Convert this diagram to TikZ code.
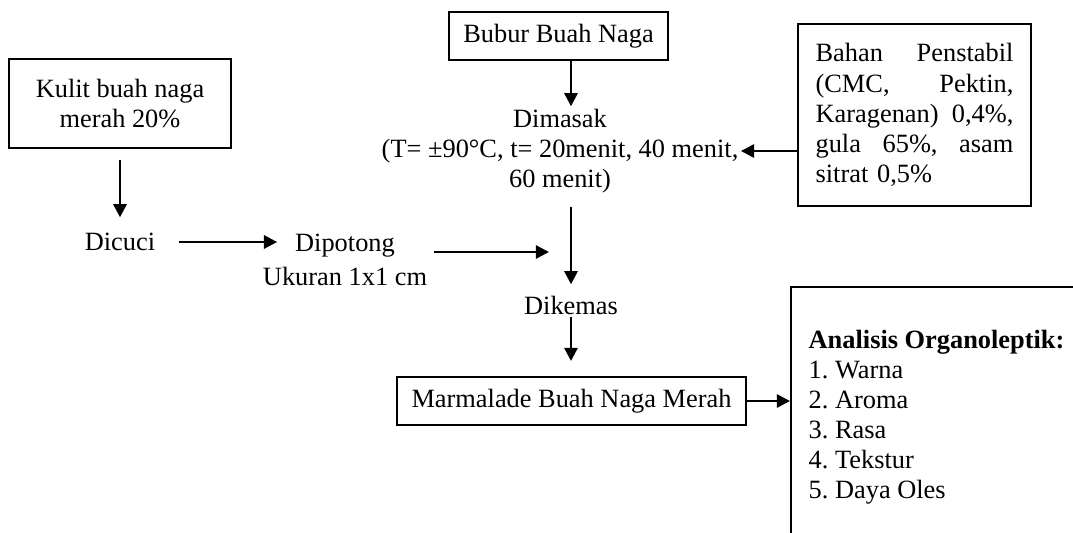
\documentclass[tikz,border=0pt]{standalone}
\usepackage{fontspec}
\setmainfont{Liberation Serif}
\usetikzlibrary{arrows.meta}

\tikzset{
	kotak/.style={draw, line width=1pt, align=center, inner sep=0pt},
	teks/.style={align=center, inner sep=1pt},
	panah/.style={line width=1.1pt, -{Triangle[length=6pt,width=6pt]}}
}

\begin{document}
\begin{tikzpicture}[x=0.455pt, y=-0.455pt, font=\fontsize{12}{13.7}\selectfont\frenchspacing]
	\clip (0,0) rectangle (1073,532);

	\node [kotak, minimum width=101pt, minimum height=40.5pt] (kulit) at (120,103.5) {Kulit buah naga\\merah 20\%};
	\node [kotak, minimum width=99.6pt, minimum height=21.8pt] (bubur) at (558.5,36) {Bubur Buah Naga};
	\node [kotak, minimum width=106pt, minimum height=82.8pt, text width=90pt, align=left] (bahan) at (914.5,115)
		{Bahan\hfill Penstabil\\(CMC,\hfill Pektin,\\Karagenan)\hfill 0,4\%,\\gula\hfill 65\%,\hfill asam\\sitrat 0,5\%};

	\node [teks] (dicuci) at (120,242) {Dicuci};
	\node [teks] (dipotong) at (345,246) {Dipotong};
	\node [teks] (ukuran) at (345,276) {Ukuran 1x1 cm};
	\node [teks] (dimasak) at (560,151) {Dimasak\\(T= ±90°C, t= 20menit, 40 menit,\\60 menit)};
	\node [teks] (dikemas) at (571,305) {Dikemas};

	\node [kotak, minimum width=158.8pt, minimum height=21.8pt] (marmalade) at (571.5,401) {Marmalade Buah Naga Merah};
	\node [kotak, anchor=north west, align=left, inner xsep=8pt, minimum height=118.3pt] (analisis) at (790,286)
		{\textbf{Analisis Organoleptik:}\\1. Warna\\2. Aroma\\3. Rasa\\4. Tekstur\\5. Daya Oles};

	\coordinate (gabung) at (549,252);

	\draw [panah, shorten <=5pt, shorten >=6pt] (kulit) -- (dicuci);
	\draw [panah, shorten <=9.5pt, shorten >=7pt] (dicuci.east) -- (dicuci.east -| dipotong.west);
	\draw [panah, shorten <=2pt] (gabung -| ukuran.east) -- (gabung);

	\draw [panah] (bubur.south -| dikemas.north) -- (dimasak.north -| dikemas.north);
	\draw [panah] (bahan.west |- dimasak.east) -- (dimasak.east);
	\draw [panah, shorten <=5pt, shorten >=4pt] (dimasak.south -| dikemas.north) -- (dikemas.north);
	\draw [panah, shorten >=6.8pt] (dikemas.south) -- (dikemas.south |- marmalade.north);
	\draw [panah] (marmalade.east) -- (marmalade.east -| analisis.west);
\end{tikzpicture}
\end{document}
